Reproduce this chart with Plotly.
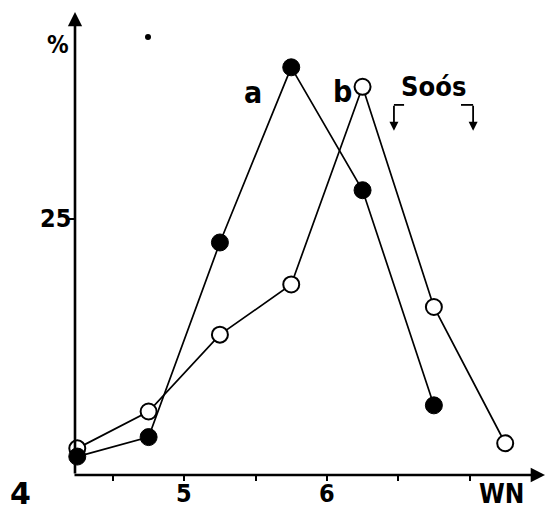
import plotly.graph_objects as go

# Data (class midpoints of WN, percentages)
wn_a = [4.25, 4.75, 5.25, 5.75, 6.25, 6.75]
pct_a = [1.8, 3.7, 22.7, 39.8, 27.8, 6.8]
wn_b = [4.25, 4.75, 5.25, 5.75, 6.25, 6.75, 7.25]
pct_b = [2.6, 6.2, 13.7, 18.6, 37.9, 16.4, 3.1]
x_tickvals = [4.5, 5, 5.5, 6, 6.5, 7]
x_ticktext = ["", "5", "", "6", "", ""]
y_tickvals = [25]
y_ticktext = ["25"]

XMIN, XMAX = 4.234, 7.529
YMIN, YMAX = 0, 45.2
FONT = "DejaVu Sans Condensed, DejaVu Sans, Liberation Sans Narrow, sans-serif"

fig = go.Figure()
fig.add_trace(go.Scatter(
    x=wn_b, y=pct_b, mode="lines+markers",
    line=dict(color="black", width=1.7),
    marker=dict(size=16, color="white", line=dict(color="black", width=2)),
    cliponaxis=False, showlegend=False, hoverinfo="skip"))
fig.add_trace(go.Scatter(
    x=wn_a, y=pct_a, mode="lines+markers",
    line=dict(color="black", width=1.7),
    marker=dict(size=17, color="black", line=dict(color="black", width=1)),
    cliponaxis=False, showlegend=False, hoverinfo="skip"))

ann = []
# axis arrows
ann.append(dict(x=XMAX, y=0, ax=XMIN - 0.014, ay=0, xref="x", yref="y", axref="x", ayref="y",
                showarrow=True, arrowhead=2, arrowsize=1.1, arrowwidth=2.6, arrowcolor="black", text=""))
ann.append(dict(x=XMIN, y=YMAX, ax=XMIN, ay=0, xref="x", yref="y", axref="x", ayref="y",
                showarrow=True, arrowhead=2, arrowsize=1.1, arrowwidth=2.6, arrowcolor="black", text=""))
# Soós range arrows
for xv in [6.470, 7.025]:
    ann.append(dict(x=xv, y=33.6, ax=xv, ay=36.2, xref="x", yref="y", axref="x", ayref="y",
                    showarrow=True, arrowhead=2, arrowsize=1.0, arrowwidth=1.8, arrowcolor="black", text=""))


def txt(x, y, s, size, xref="x", yref="y", family=FONT):
    return dict(x=x, y=y, xref=xref, yref=yref,
                text=s, showarrow=False, xanchor="center", yanchor="middle",
                font=dict(size=size, color="black", family=family))


# tick labels placed under their tick values
for tv, tt in zip(x_tickvals, x_ticktext):
    if tt:
        ann.append(txt(tv, (475 - 493) / 463, "<b>%s</b>" % tt, 25, xref="x", yref="paper"))
for tv, tt in zip(y_tickvals, y_ticktext):
    ann.append(txt((55 - 75) / 470, tv, "<b>%s</b>" % tt, 25, xref="paper", yref="y"))

ann.append(txt(5.482, 37.3, "<b>a</b>", 30))
ann.append(txt(6.11, 37.4, "<b>b</b>", 30))
ann.append(txt(6.745, 37.9, "<b>Soós</b>", 27))
ann.append(txt((58 - 75) / 470, (475 - 45) / 463, "<b>%</b>", 24, xref="paper", yref="paper"))
ann.append(txt((501 - 75) / 470, (475 - 494) / 463, "<b>WN</b>", 26, xref="paper", yref="paper"))
ann.append(txt((20 - 75) / 470, (475 - 493) / 463, "<b>4</b>", 30, xref="paper", yref="paper",
               family="DejaVu Sans"))

shapes = []
# horizontal stubs of Soós range markers
shapes.append(dict(type="line", xref="x", yref="y", x0=6.470, x1=6.541, y0=36.13, y1=36.13,
                   line=dict(color="black", width=1.8)))
shapes.append(dict(type="line", xref="x", yref="y", x0=6.940, x1=7.025, y0=36.13, y1=36.13,
                   line=dict(color="black", width=1.8)))
# stray dot in scan
shapes.append(dict(type="circle", xref="paper", yref="paper",
                   x0=(148 - 75 - 3) / 470, x1=(148 - 75 + 3) / 470,
                   y0=(475 - 37 - 3) / 463, y1=(475 - 37 + 3) / 463,
                   fillcolor="black", line=dict(width=0)))

fig.update_layout(
    width=547, height=514,
    margin=dict(l=75, r=2, t=12, b=39),
    paper_bgcolor="white", plot_bgcolor="white",
    annotations=ann, shapes=shapes, hovermode=False,
    xaxis=dict(range=[XMIN, XMAX], tickvals=x_tickvals, showticklabels=False,
               ticks="outside", ticklen=5, tickwidth=2, tickcolor="black",
               showgrid=False, zeroline=False, showline=False, automargin=False),
    yaxis=dict(range=[YMIN, YMAX], tickvals=y_tickvals, showticklabels=False,
               ticks="outside", ticklen=5, tickwidth=2, tickcolor="black",
               showgrid=False, zeroline=False, showline=False, automargin=False),
)

fig.write_html("out.html", config={"displayModeBar": False, "staticPlot": True},
               post_script="document.body.style.margin='0px';document.body.style.overflow='hidden';")
